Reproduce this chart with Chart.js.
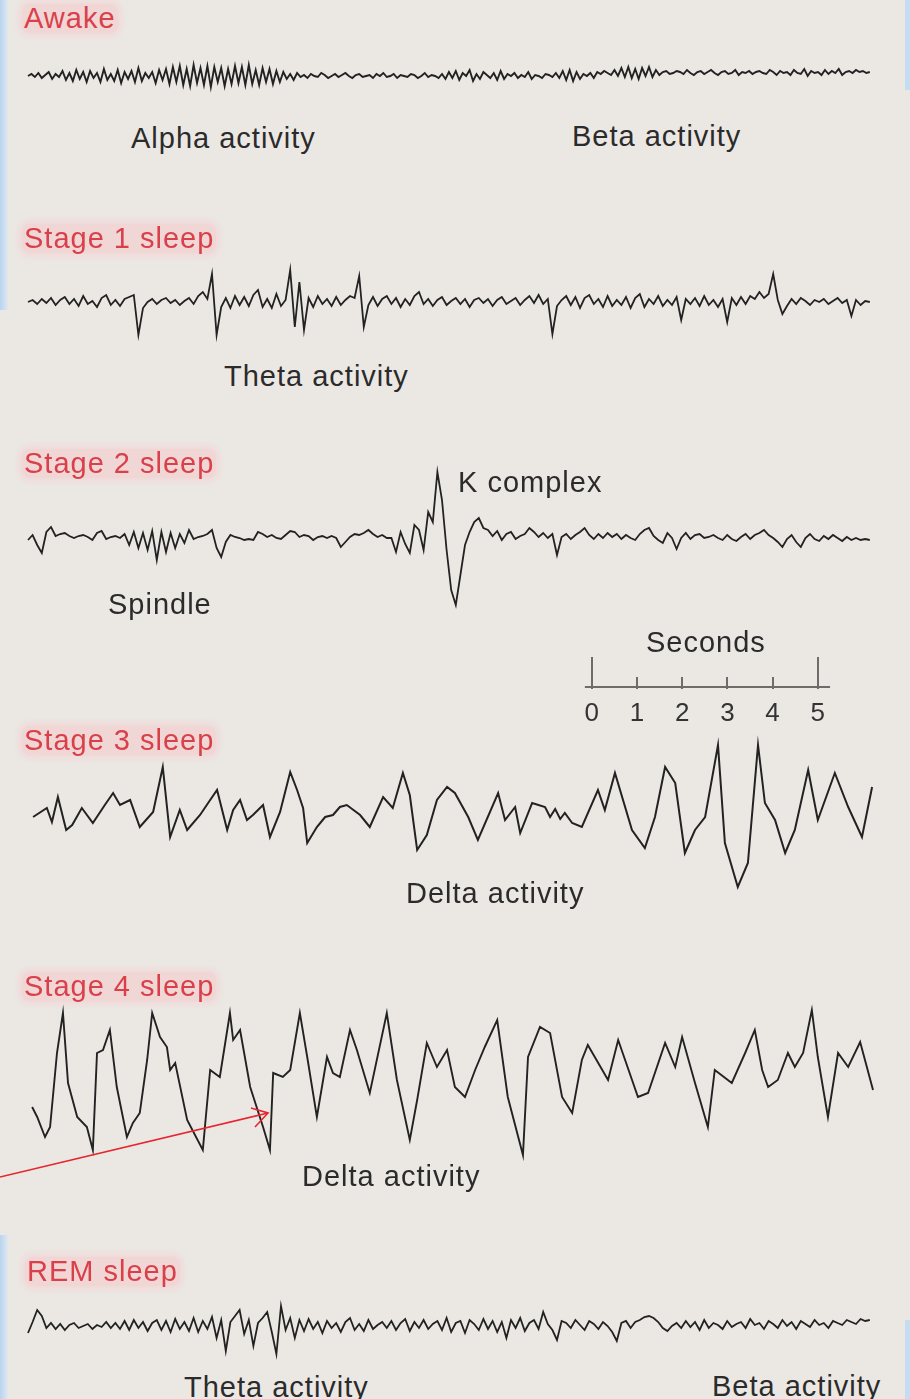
<!DOCTYPE html>
<html>
<head>
<meta charset="utf-8">
<title>EEG sleep stages</title>
<script src="https://cdn.jsdelivr.net/npm/chart.js@4"></script>
<style>
  html, body { margin: 0; padding: 0; }
  body {
    width: 910px; height: 1399px; position: relative; overflow: hidden;
    background: #ebe8e4;
    font-family: "Liberation Sans", Arial, sans-serif;
  }
  .edge { position: absolute; }
  .trace { position: absolute; left: 0; }
  .lbl {
    position: absolute; white-space: nowrap;
    font-size: 29px; line-height: 29px; letter-spacing: 1px; color: #2b2b2b;
  }
  .stage {
    color: #d9404a; padding: 0 2px; margin-left: -2px;
    background: rgba(248,196,200,0.5); border-radius: 8px;
    box-shadow: 0 0 6px 3px rgba(248,196,200,0.45);
  }
  svg { position: absolute; left: 0; top: 0; }
</style>
</head>
<body>

<div class="edge" style="left:0;top:0;width:8px;height:310px;background:linear-gradient(to right,#b9d4ef,#dfe8f1)"></div>
<div class="edge" style="left:0;top:1235px;width:8px;height:164px;background:linear-gradient(to right,#b9d4ef,#dfe8f1)"></div>
<div class="edge" style="left:905px;top:0;width:5px;height:90px;background:#c6dcf2"></div>
<div class="edge" style="left:905px;top:1320px;width:5px;height:79px;background:#c6dcf2"></div>

<canvas class="trace" id="awake"></canvas>
<canvas class="trace" id="stage1"></canvas>
<canvas class="trace" id="stage2"></canvas>
<canvas class="trace" id="stage3"></canvas>
<canvas class="trace" id="stage4"></canvas>
<canvas class="trace" id="rem"></canvas>
<canvas class="trace" id="scaleBar"></canvas>

<div class="lbl stage" style="left:24px;top:4px">Awake</div>
<div class="lbl" style="left:131px;top:124px">Alpha activity</div>
<div class="lbl" style="left:572px;top:122px">Beta activity</div>

<div class="lbl stage" style="left:24px;top:224px">Stage 1 sleep</div>
<div class="lbl" style="left:224px;top:362px">Theta activity</div>

<div class="lbl stage" style="left:24px;top:449px">Stage 2 sleep</div>
<div class="lbl" style="left:458px;top:468px">K complex</div>
<div class="lbl" style="left:108px;top:590px">Spindle</div>
<div class="lbl" style="left:646px;top:628px">Seconds</div>

<div class="lbl stage" style="left:24px;top:726px">Stage 3 sleep</div>
<div class="lbl" style="left:406px;top:879px">Delta activity</div>

<div class="lbl stage" style="left:24px;top:972px">Stage 4 sleep</div>
<div class="lbl" style="left:302px;top:1162px">Delta activity</div>

<div class="lbl stage" style="left:27px;top:1257px">REM sleep</div>
<div class="lbl" style="left:184px;top:1373px">Theta activity</div>
<div class="lbl" style="left:712px;top:1372px">Beta activity</div>

<svg width="910" height="1399">
  <g stroke="#e5262e" stroke-width="1.6" fill="none">
    <line x1="0" y1="1177" x2="268" y2="1113"/>
    <polyline points="251,1108 268,1113 255,1127"/>
  </g>
</svg>

<script>
/* ── data: amplitudes (arbitrary units, + = up) ── */

// uniformly sampled traces: one value every *_STEP seconds starting at 0 s
const AWAKE_STEP = 0.075;
const awakeAmp = [
  0,2,-1,3,-2,1,4,-3,2,-1,5,-4,3,-5,6,-3,4,-6,5,-2,
  3,-6,7,-4,2,-5,6,-7,4,-3,5,-6,8,-5,3,-2,4,-7,6,-4,
  7,-8,9,-6,10,-9,7,-10,11,-7,8,-9,10,-11,9,-6,8,-10,7,-8,
  10,-7,9,-9,11,-8,6,-9,8,-6,7,-8,5,-6,4,-3,2,-4,3,-1,
  1,-2,2,0,-1,3,1,-2,0,2,-1,1,3,0,-2,1,2,-1,0,1,
  -2,2,0,3,-1,0,2,-2,1,0,-1,2,1,-2,0,3,-1,1,0,-2,
  2,-3,4,-2,5,-4,3,0,6,-5,2,-3,4,1,-2,3,-4,5,-3,2,
  0,3,-2,1,-1,4,-3,1,0,-2,2,1,-1,3,-2,5,-4,6,-5,4,
  -3,2,0,3,-2,4,2,5,3,1,6,0,8,-1,9,-2,7,-3,8,0,
  9,-1,6,1,4,5,2,3,5,4,2,6,3,1,4,5,2,4,6,3,
  1,4,5,2,3,6,1,4,3,5,2,4,5,3,2,6,4,1,5,3,
  4,1,6,3,2,7,0,5,3,4,1,6,2,5,3,7,1,4,5,3,
  6,4,5,3,4
];

const STAGE1_STEP = 0.1;
const stage1Amp = [
  0,2,-2,3,-1,4,-3,2,5,-2,3,-4,6,-2,1,-5,4,7,-3,2,
  -4,3,5,7,-33,-6,0,3,-2,2,4,-1,2,-3,1,4,-2,6,10,3,
  28,-33,-5,4,-6,6,-3,5,-4,7,12,-5,3,-6,8,-4,2,32,-25,20,
  -28,4,-5,6,-2,3,-4,5,-3,2,6,4,26,-25,-3,5,-4,3,6,-2,
  4,-5,3,-3,6,10,-2,3,-4,2,5,-3,1,4,-2,3,-5,2,4,-1,
  3,-4,2,5,-2,1,4,-3,2,6,-1,7,-2,3,-32,-4,2,6,-3,5,
  -6,4,7,-2,3,-5,6,-4,2,-3,5,-6,4,8,-5,3,-2,6,-4,2,
  -3,5,-18,3,-2,4,-4,6,-3,2,-5,3,-20,4,-3,5,-2,6,3,10,
  4,8,28,2,-12,-4,3,-2,4,1,-3,2,0,3,-2,1,4,-1,2,-14,
  2,-3,1,0
];

const STAGE2_STEP = 0.1;
const stage2Amp = [
  0,5,-5,-13,8,13,4,6,7,4,2,4,5,3,0,7,9,1,3,4,
  2,6,-5,8,-8,7,-10,9,-20,8,-12,7,-8,6,-3,10,1,3,4,6,
  10,-8,-17,-2,5,3,2,0,1,0,8,6,3,5,2,1,5,9,8,3,
  5,4,0,3,4,2,4,2,-7,-2,3,6,5,7,10,6,3,5,2,2,
  -12,8,-4,-13,15,10,-10,28,18,68,40,-10,-50,-65,-35,-5,8,18,22,12,
  10,4,9,0,6,8,1,4,6,12,8,3,7,2,6,-15,3,6,1,5,
  8,12,5,1,6,2,7,3,6,1,5,2,0,6,10,12,4,0,-3,7,
  2,-9,2,7,1,5,6,2,3,5,2,0,5,1,-1,3,6,1,5,7,
  10,5,2,-2,-7,1,5,-2,-7,2,6,1,-1,4,1,5,2,-1,3,0,
  2,0,1,0
];

const REM_STEP = 0.1;
const remAmp = [
  -7,4,16,10,-2,3,-3,2,-4,1,3,-2,0,2,-3,1,-1,4,-2,3,
  -3,5,-4,6,-2,4,-5,3,6,-4,5,-6,7,-3,4,-5,8,-6,5,-3,
  9,-12,6,-25,4,10,16,-8,6,-20,3,8,14,-6,-28,20,-4,8,-12,6,
  -5,7,-3,4,-7,5,-2,3,-6,4,8,-4,2,-5,6,-3,1,4,-2,5,
  -4,3,7,-5,4,-2,6,-3,2,5,-4,8,-6,3,5,-7,6,2,-4,7,
  -3,5,-6,4,-12,6,-2,8,-5,3,6,-3,14,2,-4,-14,5,3,-2,6,
  1,-4,5,2,-3,4,0,-6,-15,3,5,-2,4,6,9,10,8,4,-2,-5,
  0,3,-2,5,-1,4,-4,6,-2,3,1,-3,5,-1,2,4,-2,7,1,3,
  -3,5,2,-2,6,0,4,-3,5,2,-1,6,1,3,-2,5,3,1,6,4,
  2,7,5,6
];

// slow-wave traces: turning points (time in s, amplitude)
const stage3Time = [
  0.11,0.41,0.52,0.65,0.83,0.96,1.17,1.41,1.67,1.85,
  2.00,2.22,2.43,2.72,2.93,3.09,3.30,3.46,3.74,3.96,
  4.11,4.33,4.46,4.61,4.76,4.89,5.11,5.26,5.48,5.70,
  5.85,5.98,6.07,6.28,6.46,6.63,6.78,6.93,7.22,7.43,
  7.72,7.93,8.15,8.30,8.46,8.67,8.89,9.11,9.28,9.57,
  9.78,10.22,10.37,10.59,10.70,10.96,11.24,11.35,11.46,11.57,
  11.67,11.83,12.04,12.39,12.54,12.76,13.13,13.41,13.63,13.85,
  14.07,14.28,14.50,14.72,15.00,15.15,15.43,15.65,15.87,16.02,
  16.24,16.46,16.67,16.96,17.17,17.54,17.83,18.13,18.35
];
const stage3Amp = [
  -2,7,-7,18,-15,-10,7,-8,10,22,
  10,15,-12,3,48,-22,5,-15,0,15,
  25,-15,5,15,-5,0,10,-22,3,43,
  25,7,-28,-12,-2,0,8,10,0,-12,
  18,7,42,20,-35,-20,15,28,22,-2,
  -25,22,-5,8,-18,12,8,-2,6,-4,
  2,-8,-12,25,5,42,-15,-33,-2,48,
  32,-38,-15,-2,70,-28,-72,-48,70,12,
  -5,-38,-15,45,-5,42,8,-22,28
];

const stage4Time = [
  0.09,0.20,0.37,0.48,0.63,0.76,0.87,1.07,1.28,1.41,
  1.50,1.63,1.78,1.93,2.15,2.28,2.43,2.59,2.70,2.87,
  3.02,3.09,3.20,3.46,3.80,3.96,4.17,4.39,4.46,4.61,
  4.83,5.11,5.26,5.33,5.54,5.70,5.91,6.07,6.28,6.50,
  6.63,6.78,7.00,7.15,7.43,7.80,8.02,8.30,8.46,8.67,
  8.89,9.11,9.28,9.50,9.72,9.93,10.20,10.43,10.76,10.87,
  11.13,11.35,11.61,11.83,12.04,12.17,12.61,12.83,13.26,13.48,
  13.85,14.07,14.22,14.50,14.78,14.93,15.30,15.59,15.80,15.96,
  16.09,16.30,16.52,16.67,16.85,17.04,17.17,17.39,17.61,17.83,
  18.09,18.37
];
const stage4Amp = [
  -27,-37,-57,-47,27,67,-3,-37,-47,-70,
  27,30,50,-7,-57,-43,-33,20,67,43,
  33,10,17,-40,-70,10,3,67,40,50,
  -7,-47,-70,7,3,10,67,23,-37,23,
  7,3,50,30,-13,67,0,-60,-20,37,
  13,30,-7,-17,10,33,60,-17,-75,23,
  53,47,-17,-33,20,35,0,40,-17,-13,
  37,13,43,-3,-47,10,-3,27,50,10,
  -7,0,27,13,27,70,23,-37,27,13,
  38,-10
];

// time scale bar
const scaleTicks = [0, 1, 2, 3, 4, 5];

/* ── shared setup ────────────────────────────────────────────────── */
const INK = '#222222';
const FONT = '"Liberation Sans", Arial, sans-serif';

const sampled = (amps, step) => amps.map((v, i) => ({ x: i * step, y: v }));
const paired = (times, amps) => times.map((t, i) => ({ x: t, y: amps[i] }));

// canvas placed so that 1 s = 46 px and t = 0 sits at x = 28
function trace(id, points, top, height, width) {
  const el = document.getElementById(id);
  el.width = 910; el.height = height;
  el.style.width = '910px'; el.style.height = height + 'px';
  el.style.top = top + 'px';
  new Chart(el, {
    type: 'scatter',
    data: {
      datasets: [{
        data: points,
        showLine: true,
        borderColor: INK,
        borderWidth: width,
        pointRadius: 0,
        tension: 0,
        clip: false
      }]
    },
    options: {
      responsive: false,
      animation: false,
      layout: { padding: 0 },
      plugins: { legend: { display: false }, tooltip: { enabled: false } },
      scales: {
        x: { type: 'linear', display: false, min: -28 / 46, max: 882 / 46 },
        y: { type: 'linear', display: false, min: -height / 2, max: height / 2 }
      }
    }
  });
}

/* ── 1. traces ───────────────────────────────────────────────────── */
trace('awake',  sampled(awakeAmp, AWAKE_STEP),   46,   60,  1.9);
trace('stage1', sampled(stage1Amp, STAGE1_STEP), 252,  100, 1.8);
trace('stage2', sampled(stage2Amp, STAGE2_STEP), 440,  200, 1.8);
trace('stage3', paired(stage3Time, stage3Amp),   715,  200, 2.0);
trace('stage4', paired(stage4Time, stage4Amp),   980,  200, 1.9);
trace('rem',    sampled(remAmp, REM_STEP),       1286, 80,  1.8);

/* ── 2. "Seconds" scale bar ──────────────────────────────────────── */
const scaleMarks = {
  id: 'scaleMarks',
  afterDraw(chart) {
    const { ctx, scales: { x }, chartArea } = chart;
    const y0 = chartArea.bottom;
    ctx.save();
    ctx.strokeStyle = '#6e6c69';
    ctx.lineWidth = 2;
    ctx.beginPath();
    ctx.moveTo(x.getPixelForValue(-0.15), y0);
    ctx.lineTo(x.getPixelForValue(5.27), y0);
    scaleTicks.forEach(v => {
      const px = Math.round(x.getPixelForValue(v));
      const big = v === scaleTicks[0] || v === scaleTicks[scaleTicks.length - 1];
      ctx.moveTo(px, y0 + 2);
      ctx.lineTo(px, y0 - (big ? 30 : 10));
    });
    ctx.stroke();
    ctx.restore();
  }
};

(function () {
  const el = document.getElementById('scaleBar');
  el.width = 280; el.height = 90;
  el.style.left = '560px'; el.style.top = '642px';
  el.style.width = '280px'; el.style.height = '90px';
  new Chart(el, {
    type: 'scatter',
    data: { datasets: [] },
    options: {
      responsive: false,
      animation: false,
      layout: { padding: 0 },
      plugins: { legend: { display: false }, tooltip: { enabled: false } },
      scales: {
        x: {
          type: 'linear', min: -0.7, max: 5.49,
          afterBuildTicks: axis => { axis.ticks = scaleTicks.map(v => ({ value: v })); },
          grid: { display: false, drawTicks: false },
          border: { display: false },
          ticks: { color: '#333', padding: 11, font: { family: FONT, size: 26 } }
        },
        y: { display: false, min: 0, max: 1 }
      }
    },
    plugins: [scaleMarks]
  });
})();
</script>
</body>
</html>
